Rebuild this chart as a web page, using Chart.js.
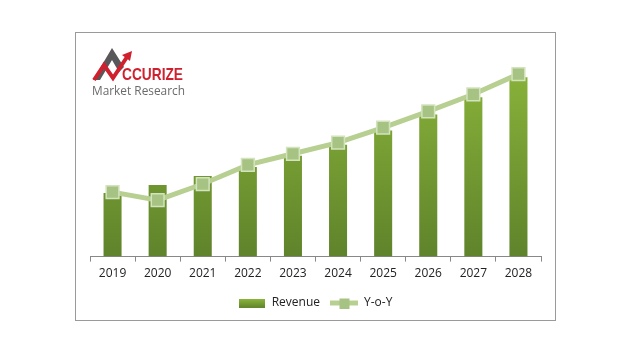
<!DOCTYPE html>
<html><head><meta charset="utf-8">
<script src="https://cdn.jsdelivr.net/npm/chart.js@4.4.0/dist/chart.umd.min.js"></script>
<style>html,body{margin:0;padding:0;background:#fff}#wrap{width:640px;height:357px}</style>
</head><body><div id="wrap"><canvas id="c" width="640" height="357"></canvas></div>
<script>
const categories = ['2019','2020','2021','2022','2023','2024','2025','2026','2027','2028'];
const revenue = [63, 71, 80, 89, 100, 111, 125, 141, 158, 178];
const yoy = [64, 56, 72, 91, 102, 113, 128, 144, 161, 181];
const seriesNames = ['Revenue', 'Y-o-Y'];

function makeIcon(w, h, draw){const c=document.createElement('canvas');c.width=w;c.height=h;draw(c.getContext('2d'));return c;}
const revIcon = makeIcon(26, 9, g=>{const gr=g.createLinearGradient(0,0,0,9);gr.addColorStop(0,'#8db83c');gr.addColorStop(1,'#62862c');g.fillStyle=gr;g.fillRect(0,0,26,9);});
const yoyIcon = makeIcon(28, 11, g=>{g.strokeStyle='#b7d092';g.lineWidth=5;g.beginPath();g.moveTo(0,5.5);g.lineTo(28,5.5);g.stroke();g.fillStyle='#a7c383';g.fillRect(9,1,10,10);});

const ctx = document.getElementById('c').getContext('2d');

const frameLogo = {
  id:'frameLogo',
  beforeDraw(chart){
    const g=chart.ctx; g.save();
    g.strokeStyle='#9a9a9a'; g.lineWidth=1; g.strokeRect(75.5,32.5,480,288);
    g.fillStyle='#58585a';
    g.beginPath(); g.moveTo(93,80); g.lineTo(112,48); g.lineTo(124,67); g.lineTo(119,72); g.lineTo(112,60); g.lineTo(100,80); g.closePath(); g.fill();
    g.strokeStyle='#d0202e'; g.lineWidth=4; g.lineJoin='miter';
    g.beginPath(); g.moveTo(94,80); g.lineTo(104,65); g.lineTo(113,78); g.lineTo(127,57); g.stroke();
    g.fillStyle='#d0202e'; g.beginPath(); g.moveTo(132,51); g.lineTo(122,55); g.lineTo(130,61); g.closePath(); g.fill();
    g.font='bold 17px "Liberation Sans Narrow", "Liberation Sans", sans-serif';
    g.textBaseline='alphabetic';
    let w=g.measureText('CCURIZE').width;
    g.save(); g.translate(122,80); g.scale(61/w,1); g.fillStyle='#d0202e'; g.fillText('CCURIZE',0,0); g.restore();
    g.font='13px "Open Sans", sans-serif';
    w=g.measureText('Market Research').width;
    g.save(); g.translate(92,95); g.scale(93/w,1); g.fillStyle='#6b6b6b'; g.fillText('Market Research',0,0); g.restore();
    g.restore();
  }
};

new Chart(ctx, {
  data: {
    labels: categories,
    datasets: [
      { type:'line', label: seriesNames[1], data: yoy, borderColor:'#b7d092', borderWidth:5, tension:0,
        pointStyle:'rect', pointRadius:9, pointHoverRadius:9, pointBackgroundColor:'#a7c383', pointBorderColor:'#d3e3bd', pointBorderWidth:1.5, order:0 },
      { type:'bar', label: seriesNames[0], data: revenue, order:1,
        categoryPercentage:0.8, barPercentage:0.5,
        backgroundColor:(c)=>{const a=c.chart.chartArea; if(!a) return '#7aa034'; const gr=c.chart.ctx.createLinearGradient(0,a.top,0,a.bottom); gr.addColorStop(0,'#8cb63b'); gr.addColorStop(1,'#5f832b'); return gr;} }
    ]
  },
  options: {
    responsive:false, animation:false, devicePixelRatio:1,
    layout:{padding:{left:90,right:99,top:55,bottom:38}},
    plugins:{
      tooltip:{enabled:false},
      legend:{position:'bottom',
        labels:{usePointStyle:true, pointStyleWidth:27, padding:11, color:'#222', font:{family:'"Open Sans", sans-serif', size:12},
          generateLabels(chart){
            return [
              {text:seriesNames[0], pointStyle:revIcon, datasetIndex:1, fontColor:'#222', lineWidth:0, strokeStyle:'rgba(0,0,0,0)', fillStyle:'rgba(0,0,0,0)'},
              {text:seriesNames[1], pointStyle:yoyIcon, datasetIndex:0, fontColor:'#222', lineWidth:0, strokeStyle:'rgba(0,0,0,0)', fillStyle:'rgba(0,0,0,0)'}
            ];
          }
        }
      }
    },
    scales:{
      x:{ offset:true,
        grid:{offset:true, drawOnChartArea:false, drawTicks:true, tickLength:5, color:'#888'},
        border:{display:true, color:'#888', width:1},
        ticks:{padding:5, color:'#222', font:{family:'"Open Sans", sans-serif', size:12}} },
      y:{ display:false, min:0, max:200 }
    }
  },
  plugins:[frameLogo]
});
</script></body></html>
